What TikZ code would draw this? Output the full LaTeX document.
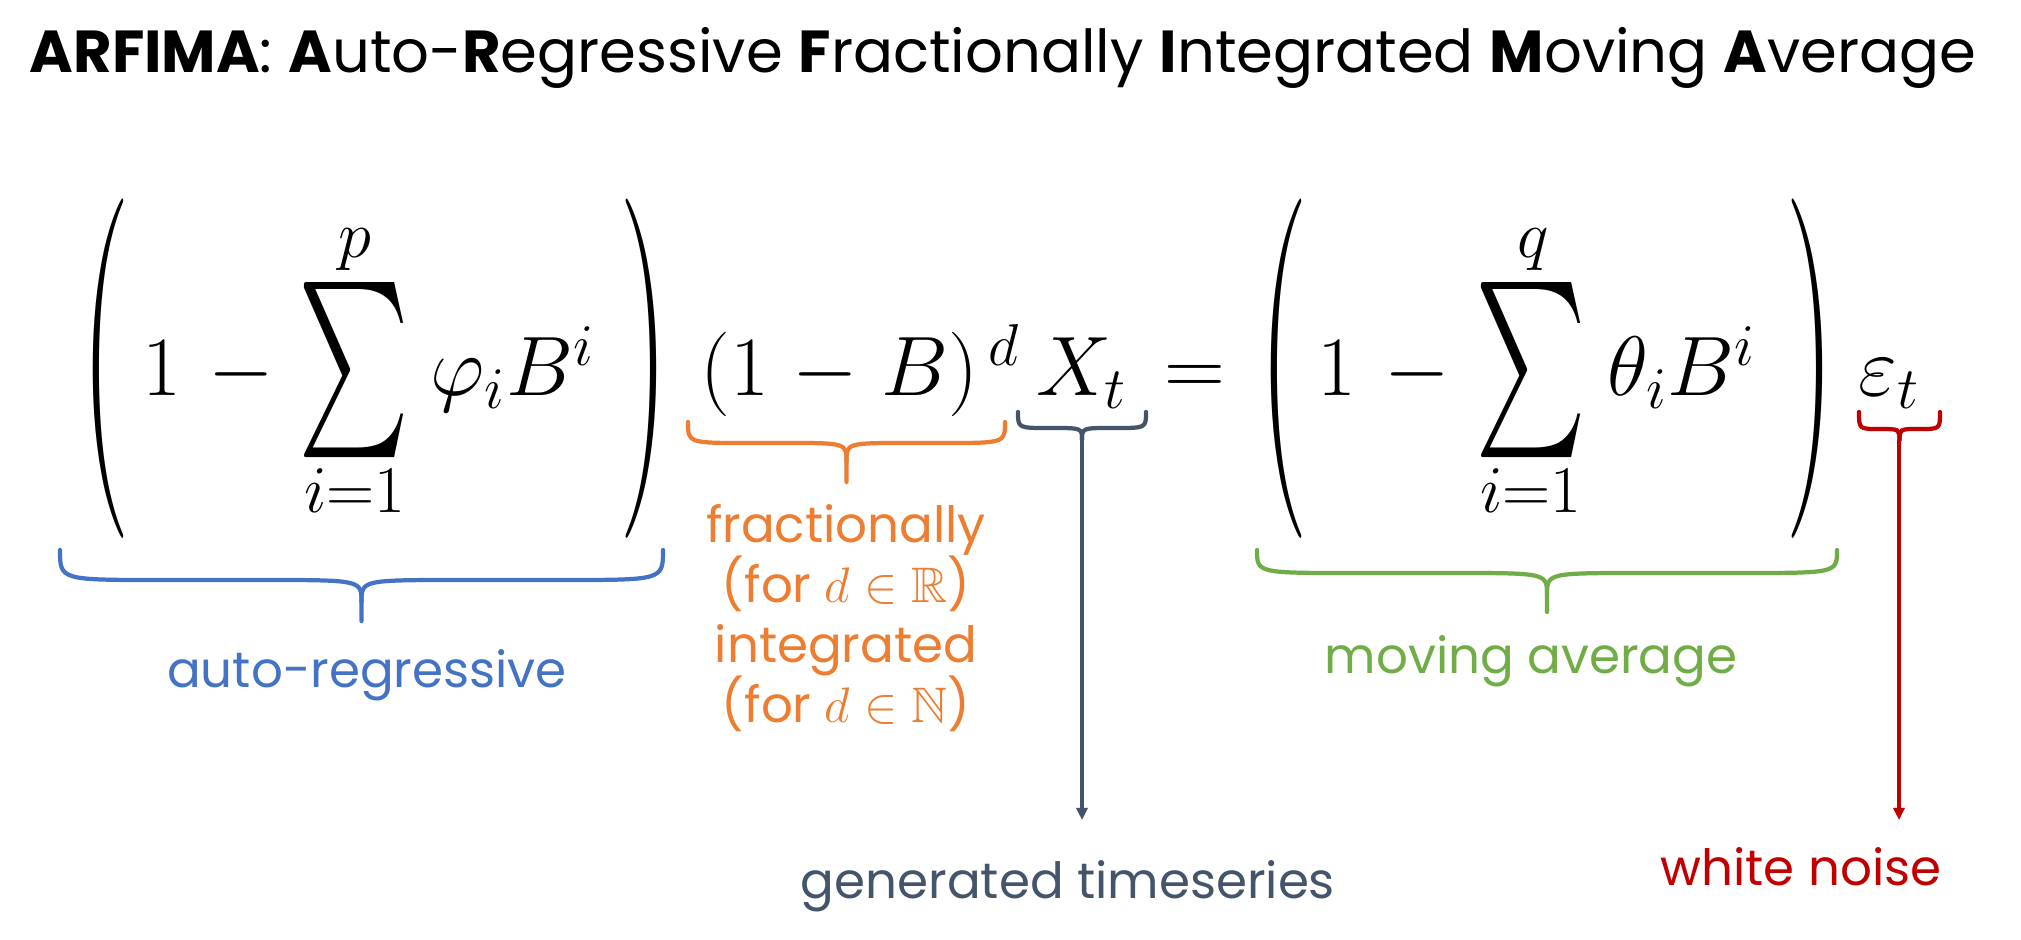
\RequirePackage{fix-cm}
\documentclass[tikz,border=0pt]{standalone}
\usepackage{amssymb}
\usepackage{graphicx}
\usepackage[no-math]{fontspec}
\setmainfont{Poppins}
\usetikzlibrary{arrows.meta}
\definecolor{arblue}{HTML}{4472C4}
\definecolor{arorange}{HTML}{ED7D31}
\definecolor{argreen}{HTML}{70AD47}
\definecolor{argray}{HTML}{44546A}
\definecolor{arred}{HTML}{C00000}
\tikzset{
  bracestyle/.style={line width=1.2pt, line cap=round},
  eqn/.style={inner sep=0pt, font=\fontsize{24}{28}\selectfont},
  lim/.style={inner sep=0pt, font=\fontsize{19}{22}\selectfont},
  lbl/.style={inner sep=0pt, anchor=base, font=\fontsize{14.2}{17}\selectfont},
  pointer/.style={line width=1pt, -{Triangle[length=0.12cm,width=0.11cm]}}
}
\newcommand\mybrace[8]{%
  \pgfmathsetmacro\bxc{(#1+#2)/2}
  \draw[bracestyle,#8] (#1,#3) .. controls (#1,#4) .. ({#1+#7},#4) -- ({\bxc-#7},#4) .. controls (\bxc,#4) .. (\bxc,#5) -- (\bxc,#6);
  \draw[bracestyle,#8] (#2,#3) .. controls (#2,#4) .. ({#2-#7},#4) -- ({\bxc+#7},#4) .. controls (\bxc,#4) .. (\bxc,#5);
}
\begin{document}
\begin{tikzpicture}[x=0.01cm,y=-0.01cm]
\fill[white] (0,0) rectangle (2021,940);
\useasboundingbox (0,0) rectangle (2021,940);

% title
\node[inner sep=0pt, anchor=base, font=\fontsize{16.85}{20}\selectfont] (title) at (1003,73)
  {\textbf{ARFIMA}: \textbf{A}uto-\textbf{R}egressive \textbf{F}ractionally \textbf{I}ntegrated \textbf{M}oving \textbf{A}verage};

% left factor
\node[eqn] (lpA) at (106,369) {\resizebox*{0.5cm}{3.39cm}{$\Biggl($}};
\node[eqn, anchor=base] (oneA) at (162,396) {$1$};
\node[eqn, anchor=base] (minA) at (241,396) {$-$};
\node[eqn] (sumA) at (354,370) {\resizebox*{1.11cm}{1.75cm}{$\textstyle\sum$}};
\node[lim, anchor=base] (supA) at (355,258) {$p$};
\node[lim, anchor=base] (subA) at (355,513) {$i{=}1$};
\node[eqn, anchor=base west] (phiA) at (430,396) {$\varphi_i B^i$};
\node[eqn] (rpA) at (645,369) {\resizebox*{0.5cm}{3.39cm}{$\Biggr)$}};

\node[eqn, anchor=base west] (diff) at (700,396) {$(1\mskip1mu-\mskip1mu B)^{\,d}$};
\node[eqn, anchor=base] (xt) at (1082,396) {$X_t$};
\node[eqn, anchor=base] (eq) at (1195,396) {$=$};

% right factor
\node[eqn] (lpB) at (1283,369) {\resizebox*{0.5cm}{3.39cm}{$\Biggl($}};
\node[eqn, anchor=base] (oneB) at (1337,396) {$1$};
\node[eqn, anchor=base] (minB) at (1417,396) {$-$};
\node[eqn] (sumB) at (1531,370) {\resizebox*{1.11cm}{1.75cm}{$\textstyle\sum$}};
\node[lim, anchor=base] (supB) at (1533,258) {$q$};
\node[lim, anchor=base] (subB) at (1531,513) {$i{=}1$};
\node[eqn, anchor=base west] (thetaB) at (1607,396) {$\theta_i B^i$};
\node[eqn] (rpB) at (1810,369) {\resizebox*{0.5cm}{3.39cm}{$\Biggr)$}};
\node[eqn, anchor=base west] (eps) at (1858,396) {$\varepsilon_t$};

% braces
\mybrace{60}{663}{550}{580}{602}{621}{100}{arblue}
\mybrace{688}{1005}{422}{443}{462}{482}{60}{arorange}
\mybrace{1257}{1837}{550}{573}{595}{612}{95}{argreen}
\mybrace{1018}{1146}{412}{428}{440}{440}{30}{argray}
\mybrace{1859}{1940}{412}{429}{440}{440}{20}{arred}

% labels
\node[lbl, text=arblue] (ar) at (367,687) {auto-regressive};
\node[lbl, text=arorange] (fr1) at (846,543) {fractionally};
\node[lbl, text=arorange] (fr2) at (846,602) {(for $d\in\mathbb{R}$)};
\node[lbl, text=arorange] (fr3) at (846,662) {integrated};
\node[lbl, text=arorange] (fr4) at (846,722) {(for $d\in\mathbb{N}$)};
\node[lbl, text=argreen] (ma) at (1531,673) {moving average};
\node[lbl, text=argray] (gts) at (1068,898) {generated timeseries};
\node[lbl, text=arred] (wn) at (1801,885) {white noise};

% pointers
\coordinate (gtip) at (1082,440);
\coordinate (gend) at (1082,820);
\coordinate (rtip) at (1899,440);
\coordinate (rend) at (1899,820);
\draw[pointer, argray] (gtip) -- (gend);
\draw[pointer, arred] (rtip) -- (rend);
\end{tikzpicture}
\end{document}
